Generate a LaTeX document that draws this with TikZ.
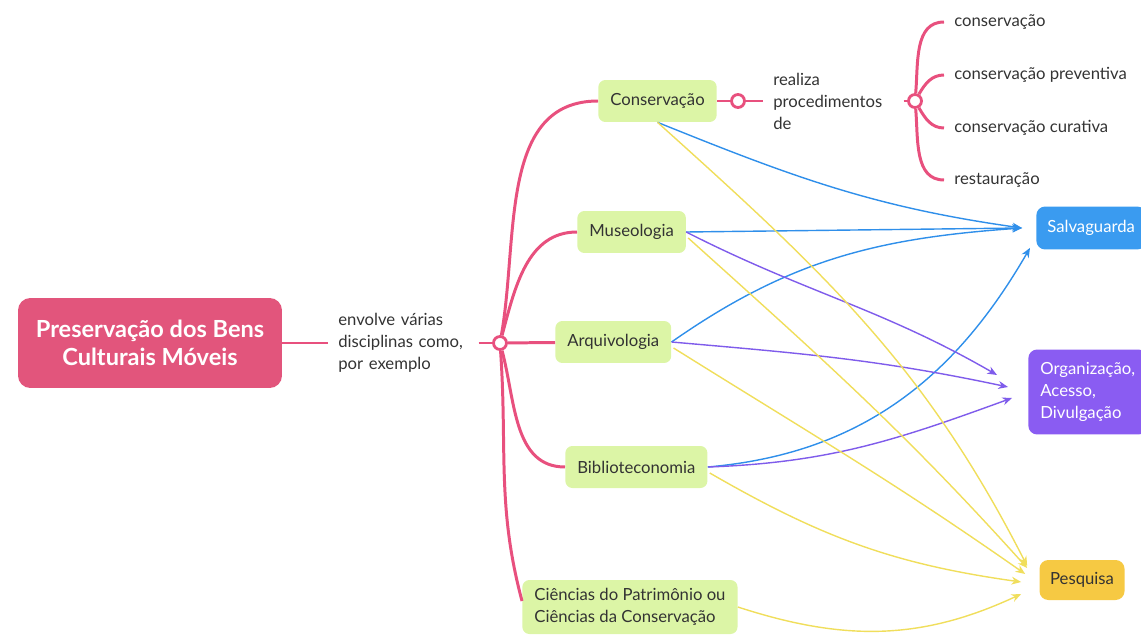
\documentclass[tikz,border=0pt]{standalone}
\usepackage{fontspec}
\setmainfont{Lato}
\usetikzlibrary{arrows.meta}
\definecolor{mappink}{HTML}{E2557C}
\definecolor{linepink}{HTML}{E8507E}
\definecolor{discgreen}{HTML}{DCF5A6}
\definecolor{inkgrey}{HTML}{333333}
\definecolor{safeblue}{HTML}{3A9BF0}
\definecolor{orgpurple}{HTML}{8A5CF2}
\definecolor{pesyellow}{HTML}{F6C943}
\definecolor{arrowblue}{HTML}{2F8FEA}
\definecolor{arrowpurple}{HTML}{7F5CEB}
\definecolor{arrowyellow}{HTML}{F0DE5C}
\begin{document}
\begin{tikzpicture}[x=0.02cm,y=-0.02cm,
  every node/.style={font=\fontsize{9.5}{12.5}\selectfont, text=inkgrey},
  disc/.style={fill=discgreen, rounded corners=4pt, minimum height=0.84cm, inner xsep=0.24cm, anchor=west, align=left},
  lbl/.style={inner xsep=0.2cm, align=left, anchor=west},
  junc/.style={circle, draw=linepink, fill=white, line width=1.6pt, inner sep=0pt, minimum size=0.26cm},
  branch/.style={draw=linepink, line width=1.7pt},
  link/.style={-{Stealth[length=5.5pt,width=4.5pt]}, line width=0.8pt},
  blink/.style={link, arrowblue},
  plink/.style={link, arrowpurple},
  ylink/.style={link, arrowyellow}]
\useasboundingbox (0,0) rectangle (1141,638);
\node[fill=mappink, rounded corners=7pt, text=white, font=\bfseries\fontsize{13.4}{16}\selectfont, minimum width=5.28cm, minimum height=1.8cm, align=center] (pres) at (150,343) {Preservação dos Bens\\Culturais Móveis};
\node[lbl, text width=2.6cm] (envolve) at (328,343) {envolve várias\\disciplinas como,\\por exemplo};
\node[junc] (j1) at (500,343) {};
\node[disc] (cons) at (598,101) {Conservação};
\node[disc] (mus) at (577,232) {Museologia};
\node[disc] (arq) at (555,342) {Arquivologia};
\node[disc] (bib) at (565,467) {Biblioteconomia};
\node[disc, minimum height=1.08cm] (cie) at (522,607) {Ciências do Patrimônio ou\\Ciências da Conservação};
\node[junc] (j2) at (738,101) {};
\node[lbl, text width=2.4cm] (realiza) at (763,101) {realiza\\procedimentos\\de};
\node[junc] (j3) at (915,101) {};
\node[lbl] (cv) at (944,22) {conservação};
\node[lbl] (cvprev) at (944,75) {conservação preventiva};
\node[lbl] (cvcur) at (944,128) {conservação curativa};
\node[lbl] (rest) at (944,180) {restauração};
\node[fill=safeblue, text=white, rounded corners=5pt, minimum height=0.86cm, inner xsep=0.22cm, anchor=west] (salv) at (1036,228) {Salvaguarda};
\node[fill=orgpurple, text=white, rounded corners=5pt, minimum height=1.7cm, inner xsep=0.24cm, anchor=west, align=left] (org) at (1028,392) {Organização,\\Acesso,\\Divulgação};
\node[fill=pesyellow, rounded corners=5pt, minimum width=1.7cm, minimum height=0.8cm] (pes) at (1082,580) {Pesquisa};
\draw[branch] (pres) -- (envolve);
\draw[branch] (envolve) -- (j1);
\draw[branch] (j1) to[out=80,in=180] (cons.west);
\draw[branch] (j1) to[out=75,in=180] (mus.west);
\draw[branch] (j1) -- (arq);
\draw[branch] (j1) to[out=-75,in=180] (bib.west);
\draw[branch] (j1) to[out=-86,in=105] ([shift={(0,-6)}]cie.west);
\draw[branch] (cons) -- (j2);
\draw[branch] (j2) -- (realiza);
\draw[branch] (realiza) -- (j3);
\draw[branch] (j3) to[out=85,in=180] (cv.west);
\draw[branch] (j3) to[out=60,in=180] (cvprev.west);
\draw[branch] (j3) to[out=-60,in=180] (cvcur.west);
\draw[branch] (j3) to[out=-85,in=180] (rest.west);
\draw[blink] (cons.south) to[out=-22,in=172] ([shift={(-14,0)}]salv.west);
\draw[blink] (mus.east) -- ([shift={(-14,0)}]salv.west);
\draw[blink] (arq.east) to[out=35,in=184] ([shift={(-14,0)}]salv.west);
\draw[blink] (bib.east) to[out=5,in=-120] ([shift={(-6,-2)}]salv.south west);
\draw[plink] (mus.east) to[out=-27,in=150] ([shift={(-31,-17)}]org.west);
\draw[plink] (arq.east) to[out=-5,in=168] ([shift={(-20,-5)}]org.west);
\draw[plink] (bib.east) to[out=2,in=200] ([shift={(-16,6)}]org.west);
\draw[ylink] (cons.south) to[out=-42,in=117] ([shift={(-12,-14)}]pes.west);
\draw[ylink] ([shift={(2,6)}]mus.east) to[out=-42,in=132] ([shift={(-12,-12)}]pes.west);
\draw[ylink] ([shift={(2,6)}]arq.east) to[out=-32,in=145] ([shift={(-14,-6)}]pes.west);
\draw[ylink] ([shift={(2,6)}]bib.east) to[out=-30,in=172] ([shift={(-18,2)}]pes.west);
\draw[ylink] (cie.east) to[out=-18,in=205] ([shift={(-18,14)}]pes.west);
\end{tikzpicture}
\end{document}
